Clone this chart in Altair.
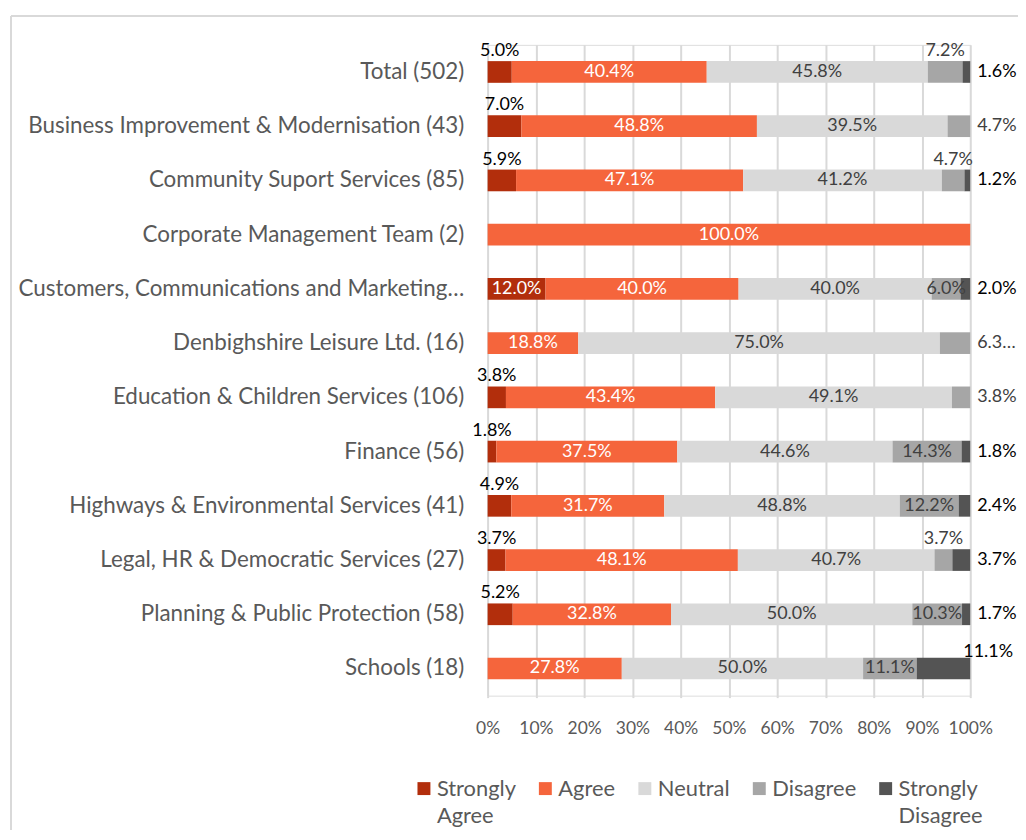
import altair as alt
import pandas as pd

departments = [
    "Total (502)",
    "Business Improvement & Modernisation (43)",
    "Community Suport Services (85)",
    "Corporate Management Team (2)",
    "Customers, Communications and Marketing…",
    "Denbighshire Leisure Ltd. (16)",
    "Education & Children Services (106)",
    "Finance (56)",
    "Highways & Environmental Services (41)",
    "Legal, HR & Democratic Services (27)",
    "Planning & Public Protection (58)",
    "Schools (18)",
]
categories = ["Strongly Agree", "Agree", "Neutral", "Disagree", "Strongly Disagree"]
strongly_agree = [5.0, 7.0, 5.9, 0, 12.0, 0, 3.8, 1.8, 4.9, 3.7, 5.2, 0]
agree = [40.4, 48.8, 47.1, 100.0, 40.0, 18.8, 43.4, 37.5, 31.7, 48.1, 32.8, 27.8]
neutral = [45.8, 39.5, 41.2, 0, 40.0, 75.0, 49.1, 44.6, 48.8, 40.7, 50.0, 50.0]
disagree = [7.2, 4.7, 4.7, 0, 6.0, 6.3, 3.8, 14.3, 12.2, 3.7, 10.3, 11.1]
strongly_disagree = [1.6, 0, 1.2, 0, 2.0, 0, 0, 1.8, 2.4, 3.7, 1.7, 11.1]
x_ticks = [0, 0.1, 0.2, 0.3, 0.4, 0.5, 0.6, 0.7, 0.8, 0.9, 1.0]

colors = ["#B22E0C", "#F5653C", "#D9D9D9", "#A6A6A6", "#545454"]

# label placement (Excel "best fit" choices)
label_overrides = {
    ("Total (502)", "Disagree"): "above",
    ("Community Suport Services (85)", "Disagree"): "above",
    ("Legal, HR & Democratic Services (27)", "Disagree"): "above",
    ("Schools (18)", "Strongly Disagree"): "aboveright",
    ("Denbighshire Leisure Ltd. (16)", "Disagree"): "rightcut",
}

series = dict(zip(categories, [strongly_agree, agree, neutral, disagree, strongly_disagree]))

rows = []
for i, d in enumerate(departments):
    vals = [series[c][i] for c in categories]
    tot = sum(vals)
    cum = 0.0
    for c, v in zip(categories, vals):
        start = cum / tot
        cum += v
        end = cum / tot
        if v == 0:
            continue
        if c == "Strongly Agree":
            mode = "in" if v >= 10 else "above"
        elif c in ("Agree", "Neutral"):
            mode = "in"
        elif c == "Disagree":
            mode = "in" if v >= 6 else "right"
        else:
            mode = "right"
        mode = label_overrides.get((d, c), mode)
        text = f"{v:.1f}%"
        if mode == "rightcut":
            text = f"{v:.1f}…"
            mode = "right"
        if c in ("Neutral", "Disagree"):
            tcolor = "#404040"
        elif mode == "in":
            tcolor = "#FFFFFF"
        else:
            tcolor = "#000000"
        rows.append(dict(dept=d, cat=c, value=v, start=start, end=end,
                         mid=(start + end) / 2, mode=mode, label=text, tcolor=tcolor))

df = pd.DataFrame(rows)

FONT = "Lato"
LBL = 18

y_enc = alt.Y("dept:N", sort=departments, title=None,
              scale=alt.Scale(paddingInner=0.6, paddingOuter=0.3),
              axis=alt.Axis(domain=False, ticks=False, labelPadding=24, labelLimit=600,
                            labelFontSize=22.5, labelColor="#595959", labelFont=FONT))

bars = alt.Chart(df).mark_bar().encode(
    x=alt.X("start:Q", scale=alt.Scale(domain=[0, 1], nice=False), title=None,
            axis=alt.Axis(values=x_ticks, format="%", grid=True, gridColor="#D9D9D9",
                          gridWidth=2, domain=False, tickSize=2, tickColor="#D9D9D9",
                          tickWidth=2, labelPadding=22, labelFontSize=17.5,
                          labelColor="#595959", labelFont=FONT, labelFlush=False)),
    x2="end:Q",
    y=y_enc,
    color=alt.Color("cat:N", sort=categories, title=None,
                    scale=alt.Scale(domain=categories, range=colors),
                    legend=alt.Legend(orient="none", direction="horizontal",
                                      legendX=-75, legendY=727, padding=0,
                                      symbolType="M-1,0.45H1V2.45H-1Z", symbolSize=169,
                                      symbolStrokeWidth=0,
                                      labelExpr="indexof(datum.label, ' ') > 0 ? split(datum.label, ' ') : [datum.label, ' ']",
                                      labelBaseline="top", labelFontSize=22,
                                      labelColor="#595959", labelFont=FONT,
                                      labelOffset=2, columnPadding=18, labelLimit=300)),
)

base = alt.Chart(df)
txt_in = base.transform_filter(alt.datum.mode == "in").mark_text(
    fontSize=LBL, font=FONT, baseline="middle", align="center").encode(
    x="mid:Q", y=alt.Y("dept:N", sort=departments), text="label:N",
    color=alt.Color("tcolor:N", scale=None))
txt_above = base.transform_filter(alt.datum.mode == "above").mark_text(
    fontSize=LBL, font=FONT, baseline="middle", align="center", dy=-21).encode(
    x="mid:Q", y=alt.Y("dept:N", sort=departments), text="label:N",
    color=alt.Color("tcolor:N", scale=None))
txt_right = base.transform_filter(alt.datum.mode == "right").mark_text(
    fontSize=LBL, font=FONT, baseline="middle", align="left", dx=7).encode(
    x="end:Q", y=alt.Y("dept:N", sort=departments), text="label:N",
    color=alt.Color("tcolor:N", scale=None))
txt_aboveright = base.transform_filter(alt.datum.mode == "aboveright").mark_text(
    fontSize=LBL, font=FONT, baseline="middle", align="left", dx=-7, dy=-17).encode(
    x="end:Q", y=alt.Y("dept:N", sort=departments), text="label:N",
    color=alt.Color("tcolor:N", scale=None))

frame_top = alt.Chart().mark_rule(color="#D9D9D9", strokeWidth=2).encode(
    x=alt.value(-479), x2=alt.value(700), y=alt.value(-29))
frame_left = alt.Chart().mark_rule(color="#D9D9D9", strokeWidth=2).encode(
    x=alt.value(-479), y=alt.value(-29), y2=alt.value(900))

chart = alt.layer(bars, txt_in, txt_above, txt_right, txt_aboveright, frame_top, frame_left).properties(
    width=485, height=654,
    padding={"left": 482, "top": 35, "right": 48, "bottom": 133},
    autosize=alt.AutoSizeParams(type="none"),
).configure_view(stroke=None).configure(
    background="white",
    style={"guide-label": {"lineHeight": 27}},
)

chart.save("out.html", embed_options={"renderer": "svg", "actions": False})
